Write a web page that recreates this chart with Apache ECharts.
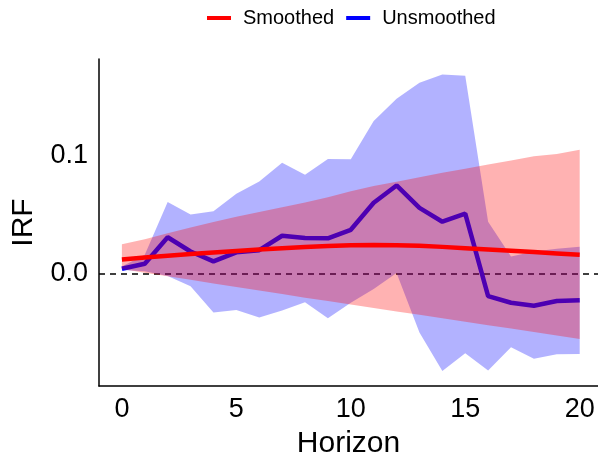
<!DOCTYPE html>
<html>
<head>
<meta charset="utf-8">
<script src="https://cdn.jsdelivr.net/npm/echarts@6/dist/echarts.min.js"></script>
<style>
html,body{margin:0;padding:0;background:#fff;}
#chart{width:598px;height:464px;}
</style>
</head>
<body>
<div id="chart"></div>
<script>
const horizon = [0,1,2,3,4,5,6,7,8,9,10,11,12,13,14,15,16,17,18,19,20];
const unsmoothed = [0.0042,0.0084,0.0307,0.0187,0.0104,0.018,0.0198,0.032,0.030,0.0298,0.037,0.0598,0.0744,0.0555,0.0438,0.0507,-0.0189,-0.0245,-0.027,-0.023,-0.0225];
const unsmoothedHi = [0.006,0.016,0.0605,0.050,0.0526,0.0674,0.0777,0.0936,0.0835,0.0967,0.0964,0.1287,0.1474,0.161,0.168,0.1668,0.0437,0.0145,0.0187,0.021,0.0226];
const unsmoothedLo = [0.003,0.002,-0.002,-0.0106,-0.0328,-0.0306,-0.037,-0.031,-0.024,-0.0376,-0.0245,-0.013,0.0006,-0.0495,-0.082,-0.067,-0.0816,-0.062,-0.0718,-0.068,-0.0677];
const smoothed = [0.012,0.0136,0.0151,0.0165,0.0179,0.0192,0.0204,0.0215,0.0225,0.0234,0.024,0.0242,0.024,0.0235,0.0226,0.0215,0.0204,0.0193,0.0182,0.0171,0.016];
const smoothedHi = [0.0248,0.029,0.034,0.039,0.0435,0.048,0.052,0.056,0.060,0.0645,0.0695,0.0739,0.0775,0.0814,0.085,0.0884,0.092,0.0955,0.099,0.101,0.1044];
const smoothedLo = [0.004,0.0008,-0.0022,-0.0052,-0.0082,-0.0112,-0.0142,-0.0172,-0.0202,-0.0231,-0.026,-0.0289,-0.0318,-0.0347,-0.0376,-0.0405,-0.0434,-0.0463,-0.0492,-0.0521,-0.055];
const xTicks = [0,5,10,15,20];
const yTicks = [0,0.1];

const pairs = arr => horizon.map((h,i) => [h, arr[i]]);
const FONT = 'Liberation Sans';

function bandSeries(name, lo, hi, color, z) {
  return {
    name: name, type:'custom', silent:true, z: z,
    data: horizon.map((h,i) => [h, lo[i], hi[i]]),
    encode:{x:0, y:[1,2]},
    renderItem: function(params, api) {
      if (params.dataIndex !== 0) return null;
      const pts = [];
      for (let i = 0; i < horizon.length; i++) pts.push(api.coord([horizon[i], hi[i]]));
      for (let i = horizon.length - 1; i >= 0; i--) pts.push(api.coord([horizon[i], lo[i]]));
      return {
        type:'polygon',
        shape:{points:pts},
        style:{fill:color, opacity:0.3},
        clipPath: {type:'rect', shape:{x:params.coordSys.x, y:params.coordSys.y, width:params.coordSys.width, height:params.coordSys.height}}
      };
    }
  };
}

const chart = echarts.init(document.getElementById('chart'), null, {renderer:'canvas'});
chart.setOption({
  animation:false,
  backgroundColor:'#fff',
  legend:{
    data:['Smoothed','Unsmoothed'],
    left:202, top:3,
    icon:'rect', itemWidth:24, itemHeight:4, itemGap:12,
    textStyle:{fontFamily:FONT, fontSize:20, color:'#000', padding:[0,0,0,7]}
  },
  grid:{left:99, right:0, top:59, bottom:75, containLabel:false},
  xAxis:{
    type:'value', min:-1, max:20.8,
    name:'Horizon', nameLocation:'middle', nameGap:43,
    nameTextStyle:{fontFamily:FONT, fontSize:30, color:'#000'},
    axisLine:{show:true, onZero:false, lineStyle:{color:'#000', width:1.5}},
    axisTick:{show:false},
    splitLine:{show:false},
    axisLabel:{customValues:xTicks, fontFamily:FONT, fontSize:27, color:'#000', margin:10}
  },
  yAxis:{
    type:'value', min:-0.0947, max:0.181,
    name:'IRF', nameLocation:'middle', nameGap:60, nameRotate:90,
    nameTextStyle:{fontFamily:FONT, fontSize:30, color:'#000'},
    axisLine:{show:true, onZero:false, lineStyle:{color:'#000', width:1.5}},
    axisTick:{show:false},
    splitLine:{show:false},
    axisLabel:{customValues:yTicks, formatter:v => v.toFixed(1), fontFamily:FONT, fontSize:27, color:'#000', margin:11}
  },
  series:[
    {
      name:'zero', type:'line', data:[], silent:true, z:1,
      markLine:{silent:true, symbol:'none', label:{show:false}, z:1,
        lineStyle:{color:'#000', width:1.5, type:[6,5]},
        data:[{yAxis:0}]}
    },
    bandSeries('uBand', unsmoothedLo, unsmoothedHi, '#0000FF', 2),
    {name:'Unsmoothed', type:'line', z:3, data:pairs(unsmoothed), symbol:'none', color:'#0000FF', lineStyle:{color:'#0000FF', width:4.5}},
    bandSeries('sBand', smoothedLo, smoothedHi, '#FF0000', 4),
    {name:'Smoothed', type:'line', z:5, data:pairs(smoothed), symbol:'none', color:'#FF0000', lineStyle:{color:'#FF0000', width:4.5}}
  ]
});
</script>
</body>
</html>
